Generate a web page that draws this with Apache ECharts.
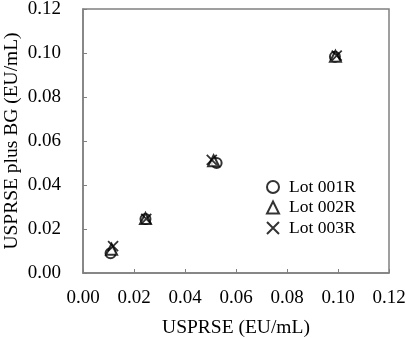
<!DOCTYPE html>
<html><head><meta charset="utf-8">
<script src="https://cdn.jsdelivr.net/npm/echarts@6/dist/echarts.min.js"></script>
<style>html,body{margin:0;padding:0;background:#fff}#c{width:405px;height:338px}</style>
</head><body><div id="c"></div>
<script>
var seriesNames = ['Lot 001R', 'Lot 002R', 'Lot 003R'];
var lot001X = [0.0108, 0.0245, 0.0524, 0.0988];
var lot001Y = [0.0090, 0.0245, 0.0500, 0.0983];
var lot002X = [0.0112, 0.0245, 0.0512, 0.0990];
var lot002Y = [0.0108, 0.0248, 0.0510, 0.0985];
var lot003X = [0.0118, 0.0248, 0.0505, 0.0995];
var lot003Y = [0.0122, 0.0246, 0.0514, 0.0988];
var xTitle = 'USPRSE (EU/mL)';
var yTitle = 'USPRSE plus BG (EU/mL)';

function pairs(xs, ys){ return xs.map(function(x,i){ return [x, ys[i]]; }); }
var font = 'Liberation Serif';
var crossPath = 'path://M0,0L10,10M10,0L0,10';
var symbols = ['emptyCircle', 'emptyTriangle', crossPath];
var datas = [pairs(lot001X, lot001Y), pairs(lot002X, lot002Y), pairs(lot003X, lot003Y)];

var chart = echarts.init(document.getElementById('c'), null, {renderer:'canvas'});
chart.setOption({
  animation: false,
  backgroundColor: '#fff',
  grid: {left: 83, right: 16, top: 9, bottom: 65, show: true, borderColor: '#808080', borderWidth: 1.5, containLabel: false, outerBoundsMode: 'none'},
  legend: {
    orient: 'vertical', left: 266, top: 178, padding: 0, itemWidth: 12, itemHeight: 12, itemGap: 2.5,
    textStyle: {fontFamily: font, fontSize: 17.5, lineHeight: 18, color: '#000', padding: [0,0,0,5]},
    data: seriesNames.map(function(n,i){ return {name: n, icon: symbols[i]}; })
  },
  xAxis: {
    type: 'value', min: 0, max: 0.12, interval: 0.02,
    name: xTitle, nameLocation: 'middle', nameGap: 45, nameMoveOverlap: false,
    nameTextStyle: {fontFamily: font, fontSize: 19.5, color: '#000'},
    axisLine: {show: true, lineStyle: {color: '#808080', width: 1.5}},
    axisTick: {show: true, inside: true, length: 4, lineStyle: {color: '#808080'}},
    axisLabel: {fontFamily: font, fontSize: 19, color: '#000', margin: 16, formatter: function(v){ return v.toFixed(2); }},
    splitLine: {show: false}
  },
  yAxis: {
    type: 'value', min: 0, max: 0.12, interval: 0.02,
    name: yTitle, nameLocation: 'middle', nameGap: 61, nameMoveOverlap: false,
    nameTextStyle: {fontFamily: font, fontSize: 19.5, color: '#000'},
    axisLine: {show: true, lineStyle: {color: '#808080', width: 1.5}},
    axisTick: {show: true, inside: true, length: 4, lineStyle: {color: '#808080'}},
    axisLabel: {fontFamily: font, fontSize: 19, color: '#000', margin: 22, formatter: function(v){ return v.toFixed(2); }},
    splitLine: {show: false}
  },
  series: seriesNames.map(function(n,i){
    return {
      name: n, type: 'scatter', symbol: symbols[i], symbolSize: i === 1 ? 11 : 10,
      data: datas[i],
      itemStyle: {color: '#000', borderColor: '#000', borderWidth: 1.8},
      emphasis: {disabled: true}
    };
  })
});
</script></body></html>
